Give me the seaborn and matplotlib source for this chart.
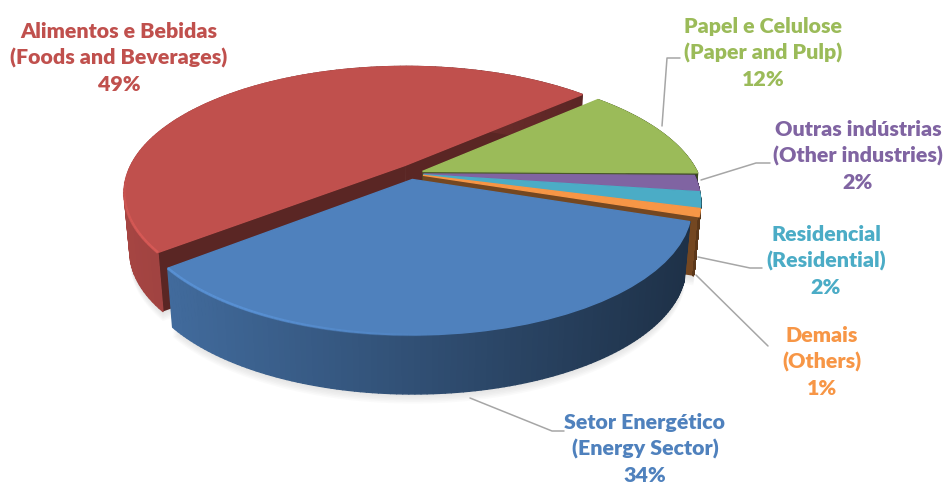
import matplotlib
matplotlib.use("Agg")
import matplotlib.pyplot as plt
import numpy as np
import seaborn as sns
from matplotlib.collections import LineCollection, PolyCollection
from matplotlib.colors import to_rgb
from matplotlib.transforms import Transform

labels = [
    "Papel e Celulose\n(Paper and Pulp)\n12%",
    "Outras indústrias\n(Other industries)\n2%",
    "Residencial\n(Residential)\n2%",
    "Demais\n(Others)\n1%",
    "Setor Energético\n(Energy Sector)\n34%",
    "Alimentos e Bebidas\n(Foods and Beverages)\n49%",
]
shares = [12, 2, 2, 1, 34, 49]
colors = ["#9BBB59", "#8064A2", "#4BACC6", "#F79646", "#4F81BD", "#C0504D"]
explode = [0.05, 0.05, 0.05, 0.05, 0.05, 0.09]
radius_scale = [1.02, 1, 1, 1, 1, 1.03]
nudge_x = [0, 0, 0, 0, 0, 0.04]

label_pos = [(763, 53), (858, 156), (826, 261), (822, 362), (645, 449), (119, 58)]
leaders = [
    [(662, 126), (667, 58), (680, 58)],
    [(701, 180), (756, 163), (770, 163)],
    [(698, 257), (750, 268), (762, 268)],
    [(696, 275), (768, 346)],
    [(470, 398), (552, 431), (564, 431)],
]

DEPTH = 59
BOTTOM_SCALE = 0.98
CX, CY = 410, 173.5


class TiltTransform(Transform):
    """Perspective view of the flat pie disc, output in pixel-like data units."""

    input_dims = output_dims = 2

    def __init__(self, rx=270, ry=120, k=0.21):
        super().__init__()
        self.rx, self.ry, self.k = rx, ry, k

    def transform_non_affine(self, values):
        values = np.asarray(values, dtype=float)
        w = 1 + self.k * values[:, 1]
        return np.column_stack(
            [CX + self.rx * values[:, 0] / w, CY - self.ry * values[:, 1] / w]
        )


def to_bottom(pts):
    out = pts.copy()
    out[:, 0] = CX + BOTTOM_SCALE * (pts[:, 0] - CX)
    out[:, 1] = pts[:, 1] + DEPTH
    return out


def arc_points(wedge, n=120):
    t = np.radians(np.linspace(wedge.theta1, wedge.theta2, n))
    cx, cy = wedge.center
    return np.column_stack([cx + wedge.r * np.cos(t), cy + wedge.r * np.sin(t)])


def wall_shade(x):
    return np.clip(0.62 - 0.24 * (x - CX) / 280, 0.36, 0.9)


sns.set_theme(style="white")
plt.rcParams["font.family"] = ["Lato", "DejaVu Sans"]

fig, ax = plt.subplots(figsize=(9.47, 4.86), dpi=100)
wedges, _ = ax.pie(
    shares,
    colors=colors,
    explode=explode,
    startangle=42.5,
    counterclock=False,
)
ax.set_aspect("auto")
ax.set_position([0, 0, 1, 1])
ax.set_xlim(0, 947)
ax.set_ylim(486, 0)
ax.axis("off")

tilt = TiltTransform()

for wedge, scale, dx in zip(wedges, radius_scale, nudge_x):
    wedge.set_radius(wedge.r * scale)
    wedge.set_center((wedge.center[0] + dx, wedge.center[1]))

# far slices first, near slices cover them
mids = [np.sin(np.radians((w.theta1 + w.theta2) / 2)) for w in wedges]
order = np.argsort(mids)[::-1]

for rank, i in enumerate(order):
    wedge = wedges[i]
    base = np.array(to_rgb(colors[i]))
    z = 10 + rank * 5
    arc = tilt.transform(arc_points(wedge))
    low = to_bottom(arc)

    # soft shadow under the outer wall
    apex = tilt.transform(np.array([wedge.center]))
    outline = to_bottom(np.vstack([apex, arc]))
    for k in range(1, 7):
        ax.fill(outline[:, 0], outline[:, 1] + k * 1.6, color="#808080", alpha=0.035,
                lw=0, zorder=1)

    # cut faces along both straight edges
    for end in (arc[0], arc[-1]):
        top = np.vstack([apex, [end]])
        cut = np.vstack([top, to_bottom(top)[::-1]])
        ax.fill(cut[:, 0], cut[:, 1], color=base * 0.47, lw=0, zorder=z)

    # outer wall, darker towards the right
    quads = [[arc[j], arc[j + 1], low[j + 1], low[j]] for j in range(len(arc) - 1)]
    shade = wall_shade((arc[:-1, 0] + arc[1:, 0]) / 2)[:, None]
    ax.add_collection(PolyCollection(quads, facecolors=base * shade, edgecolors="face",
                                     linewidths=1.0, zorder=z + 1))

    # top face is the pie wedge itself, seen through the tilt
    wedge.set_transform(tilt + ax.transData)
    wedge.set_edgecolor(colors[i])
    wedge.set_linewidth(1.0)
    wedge.set_zorder(z + 2)
    wedge.set_clip_on(False)

    # bevel highlight on the lit, viewer-facing part of the rim
    segs = np.stack([arc[:-1], arc[1:]], axis=1)
    seg_mid = segs.mean(axis=1)
    lit = (
        np.clip((CX + 40 - seg_mid[:, 0]) / 200, 0, 1)
        * np.clip((seg_mid[:, 1] - 170) / 60, 0, 1)
        * 0.6
    )
    rim = np.column_stack([np.tile(np.minimum(base * 1.2, 1), (len(segs), 1)), lit])
    ax.add_collection(LineCollection(segs, colors=rim, linewidths=2.0, zorder=z + 3))

for pts in leaders:
    xs, ys = zip(*pts)
    ax.plot(xs, ys, color="#A6A6A6", lw=1.1, zorder=2)

for text, (x, y), color in zip(labels, label_pos, colors):
    ax.text(x, y, text, color=color, fontsize=15.4, fontweight="heavy", ha="center",
            va="center", linespacing=1.42, zorder=60)

fig.savefig("out.png", dpi=100)
